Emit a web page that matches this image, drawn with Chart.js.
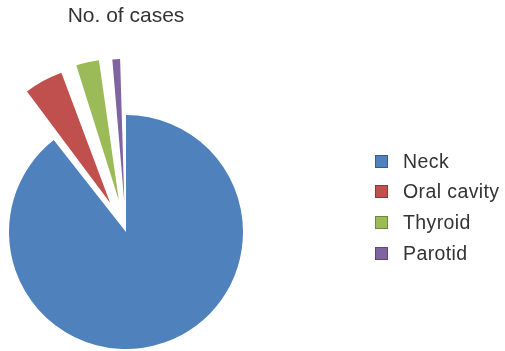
<!DOCTYPE html>
<html>
<head>
<meta charset="utf-8">
<script src="https://cdn.jsdelivr.net/npm/chart.js@4"></script>
<style>
  html, body { margin: 0; padding: 0; background: #fff; }
  #wrap { position: relative; width: 505px; height: 351px; }
  #legend {
    position: absolute; left: 375px; top: 145.7px;
    margin: 0; padding: 0; list-style: none;
    font: 19.5px "Liberation Sans", Arial, sans-serif; letter-spacing: 0.4px; color: #333;
  }
  #legend li { display: flex; align-items: center; height: 30.7px; white-space: nowrap; }
  #legend .box { width: 11px; height: 11px; border: 1px solid; margin-right: 15px; }
</style>
</head>
<body>
<div id="wrap">
  <canvas id="pie" width="505" height="351"></canvas>
  <ul id="legend"></ul>
</div>
<script>
const labels = ["Neck", "Oral cavity", "Thyroid", "Parotid"];
const cases = [89.4, 5.3, 3.5, 1.8];

const fills = ["#4F81BD", "#C0504D", "#9BBB59", "#8064A2"];
const edges = ["#385D8A", "#8C3836", "#71893F", "#5C4776"];

const $ = id => document.getElementById(id);

function buildLegend() {
  const ul = $("legend");
  labels.forEach((name, i) => {
    const li = document.createElement("li");
    const box = document.createElement("span");
    box.className = "box";
    box.style.background = fills[i];
    box.style.borderColor = edges[i];
    li.appendChild(box);
    li.appendChild(document.createTextNode(name));
    ul.appendChild(li);
  });
}

function initChart() {
  new Chart($("pie"), {
    type: "pie",
    data: {
      labels,
      datasets: [{
        data: cases,
        backgroundColor: fills,
        borderWidth: 0,
        // exploded slices, pushed out along their middle angle
        offset: [0, 132, 128, 119],
        radius: 117
      }]
    },
    options: {
      responsive: false,
      animation: false,
      events: [],
      layout: { padding: { left: 8, right: 261, top: 0, bottom: 1 } },
      plugins: {
        legend: { display: false },
        tooltip: { enabled: false },
        title: {
          display: true,
          text: "No. of cases",
          fullSize: false,
          color: "#333",
          font: { family: "'Liberation Sans', Arial, sans-serif", size: 21, weight: "normal" },
          padding: { top: 4, bottom: 84.8 }
        }
      }
    }
  });
}

buildLegend();
initChart();
</script>
</body>
</html>
